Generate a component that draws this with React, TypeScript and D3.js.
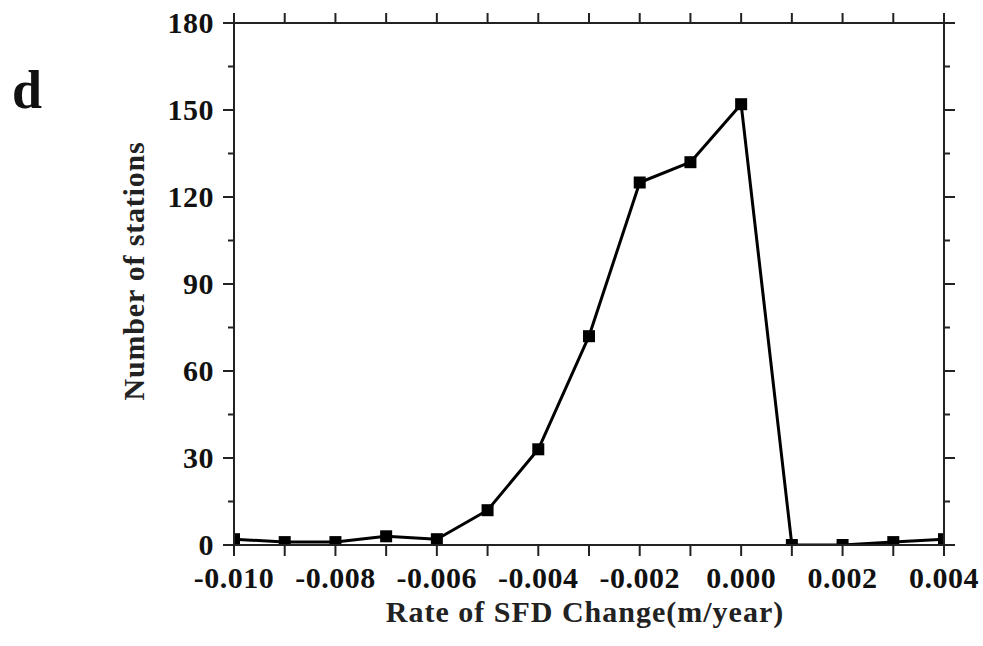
import React from "react";
import * as d3 from "d3";

// Station counts per SFD change-rate bin
const rates = [-0.010, -0.009, -0.008, -0.007, -0.006, -0.005, -0.004, -0.003, -0.002, -0.001, 0.000, 0.001, 0.002, 0.003, 0.004];
const stations = [2, 1, 1, 3, 2, 12, 33, 72, 125, 132, 152, 0, 0, 1, 2];

const xTickValues = [-0.010, -0.008, -0.006, -0.004, -0.002, 0.000, 0.002, 0.004];
const xTickLabels = ["-0.010", "-0.008", "-0.006", "-0.004", "-0.002", "0.000", "0.002", "0.004"];
const xMinorValues = [-0.010, -0.009, -0.008, -0.007, -0.006, -0.005, -0.004, -0.003, -0.002, -0.001, 0.000, 0.001, 0.002, 0.003, 0.004];
const yTickValues = [0, 30, 60, 90, 120, 150, 180];
const yMinorValues = [15, 45, 75, 105, 135, 165];

const W = 983;
const H = 646;
const left = 234;
const right = 944;
const top = 23;
const bottom = 545;
const FONT = "'Liberation Serif', 'Times New Roman', serif";

export default function App() {
  const x = d3.scaleLinear().domain([-0.010, 0.004]).range([left, right]);
  const y = d3.scaleLinear().domain([0, 180]).range([bottom, top]);

  const pts = rates.map((r, i) => [x(r), y(stations[i])] as [number, number]);
  const line = d3.line()(pts) || "";
  const m = 12;

  return (
    <svg width={W} height={H} style={{ position: "absolute", left: 0, top: 0, background: "#fff" }}>
      <defs>
        <clipPath id="plot-clip">
          <rect x={left} y={top} width={right - left} height={bottom - top} />
        </clipPath>
      </defs>
      <rect x={0} y={0} width={W} height={H} fill="#fff" />

      {/* series */}
      <g clipPath="url(#plot-clip)">
        <path d={line} fill="none" stroke="#000" strokeWidth={3} strokeLinejoin="round" />
        {pts.map(([px, py], i) => (
          <rect key={i} x={px - m / 2} y={py - m / 2} width={m} height={m} fill="#000" />
        ))}
      </g>

      {/* frame */}
      <rect x={left} y={top} width={right - left} height={bottom - top} fill="none" stroke="#222" strokeWidth={2} />

      {/* x ticks, top and bottom */}
      {xMinorValues.map((v, i) => (
        <g key={"xt" + i}>
          <line x1={x(v)} x2={x(v)} y1={bottom} y2={bottom + 11} stroke="#222" strokeWidth={2} />
          <line x1={x(v)} x2={x(v)} y1={top} y2={top - 10} stroke="#222" strokeWidth={2} />
        </g>
      ))}
      {xTickValues.map((v, i) => (
        <text key={"xl" + i} x={x(v)} y={588} textAnchor="middle" fontFamily={FONT} fontWeight="bold" fontSize={30} letterSpacing={0.5} fill="#111">
          {xTickLabels[i]}
        </text>
      ))}

      {/* y ticks, left and right */}
      {yTickValues.map((v, i) => (
        <g key={"yt" + i}>
          <line x1={left - 11} x2={left} y1={y(v)} y2={y(v)} stroke="#222" strokeWidth={2} />
          <line x1={right} x2={right + 11} y1={y(v)} y2={y(v)} stroke="#222" strokeWidth={2} />
          <text x={214} y={y(v) + 10} textAnchor="end" fontFamily={FONT} fontWeight="bold" fontSize={30} letterSpacing={0.5} fill="#111">
            {v}
          </text>
        </g>
      ))}
      {yMinorValues.map((v, i) => (
        <g key={"ym" + i}>
          <line x1={left - 6} x2={left} y1={y(v)} y2={y(v)} stroke="#222" strokeWidth={2} />
          <line x1={right} x2={right + 6} y1={y(v)} y2={y(v)} stroke="#222" strokeWidth={2} />
        </g>
      ))}

      {/* axis titles */}
      <text x={585} y={622} textAnchor="middle" fontFamily={FONT} fontWeight="bold" fontSize={30} letterSpacing={1} fill="#222">
        Rate of SFD Change(m/year)
      </text>
      <text transform={`translate(144,271) rotate(-90)`} textAnchor="middle" fontFamily={FONT} fontWeight="bold" fontSize={30} letterSpacing={0.8} fill="#222">
        Number of stations
      </text>

      {/* panel letter */}
      <text x={12} y={108} fontFamily={FONT} fontWeight="bold" fontSize={54} fill="#111">
        d
      </text>
    </svg>
  );
}
